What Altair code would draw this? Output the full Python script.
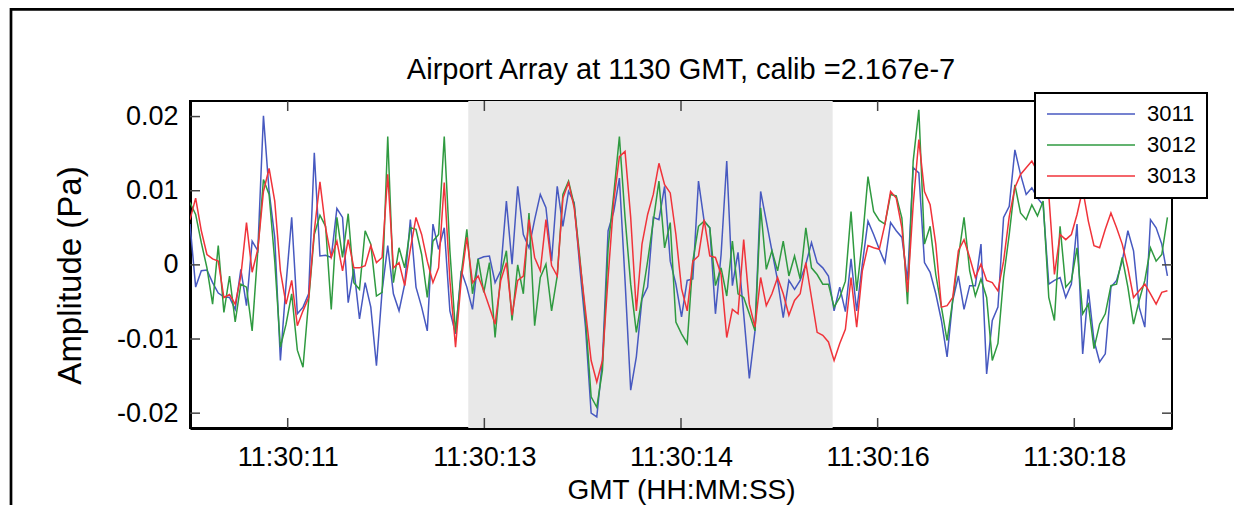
import altair as alt
import pandas as pd

# ---------------- data (in units of 0.01 Pa) ----------------
T0 = 10.905          # time (s after 11:30:00) of the first sample
DT = 0.04597         # sample interval (s)

S3011 = [
    0.55, -0.30, -0.08, -0.07, -0.24, -0.38, -0.43, -0.44, -0.60, -0.06,
    -0.55, 0.32, 0.19, 2.01, 0.99, 0.37, -1.29, -0.26, 0.64, -0.66,
    -0.57, -0.39, 1.51, 0.12, 0.13, 0.10, 0.76, 0.64, -0.51, -0.05,
    -0.73, -0.24, -0.57, -1.36, -0.35, 0.26, -0.39, -0.62, -0.26, 0.61,
    -0.30, -0.57, -0.89, 0.55, 0.21, 0.50, -0.62, -0.93, -0.08, -0.30,
    -0.60, 0.08, 0.11, 0.12, -0.24, -0.08, 0.86, 0.01, 1.06, 0.41,
    0.23, 0.61, 0.95, 0.77, 0.05, 1.06, 0.52, 0.99, 0.84, -0.04,
    -0.84, -2.00, -2.05, -1.29, 0.46, 0.72, 1.17, -0.21, -1.69, -1.24,
    -0.46, -0.30, 0.64, 0.61, 1.06, 0.05, -0.26, -0.70, -0.21, -0.19,
    1.13, 0.59, 0.50, -0.66, 0.14, 1.40, -0.28, 0.17, -0.66, -1.53,
    -0.89, 0.99, 0.59, 0.19, -0.21, -0.71, -0.21, -0.33, -0.21, 0.01,
    0.30, 0.03, -0.04, -0.15, -0.62, -0.30, -0.63, 0.08, -0.62, 0.01,
    0.59, 0.41, 0.21, 0.03, 0.57, 0.46, 0.37, -0.21, 1.31, 1.24,
    0.03, -0.10, -0.39, -0.75, -1.24, -0.48, -0.15, -0.60, -0.28, -0.28,
    0.28, -1.47, -0.75, -0.57, 0.64, 0.79, 1.55, 1.22, 0.95, 1.04,
    0.90, 0.81, -0.26, -0.21, -0.17, -0.44, -0.26, 0.55, -1.20, -0.33,
    -1.02, -1.31, -1.20, -0.30, -0.21, 0.05, 0.46, 0.19, -0.57, -0.84,
    0.61, 0.50, 0.28, -0.15,
]

S3012 = [
    0.84, 0.68, 0.30, -0.04, -0.53, 0.26, -0.64, -0.15, -0.77, -0.26,
    -0.30, -0.89, 0.19, 1.15, 0.95, 0.05, -1.11, -0.80, -0.39, -1.15,
    -1.38, -0.48, 0.41, 0.67, 0.52, -0.60, 0.64, 0.10, 0.69, -0.24,
    -0.33, 0.46, 0.28, -0.42, -0.37, 1.73, -0.24, 0.23, -0.04, 0.50,
    0.48, 0.14, -0.44, 0.32, 0.41, 1.73, 0.19, -0.91, -0.13, 0.48,
    -0.39, 0.08, -0.37, 0.03, -0.98, -0.13, 0.19, -0.75, 0.00, -0.39,
    0.70, -0.82, -0.17, 0.01, -0.62, -0.15, 0.95, 1.13, 0.81, 0.10,
    -0.71, -1.78, -1.92, -1.42, 0.23, 0.95, 1.73, 0.64, -0.26, -0.91,
    -0.44, 0.05, 0.59, 1.13, 0.23, 0.57, -0.77, -0.93, -1.06, 0.05,
    0.52, 0.59, 0.50, -0.28, -0.04, -0.42, 0.32, -0.39, -0.44, -0.66,
    -0.89, 0.77, -0.06, 0.19, -0.08, 0.32, -0.15, 0.12, -0.19, 0.50,
    -0.04, -0.13, -0.26, -0.26, -0.57, -0.44, -0.22, 0.72, -0.35, 0.32,
    1.19, 0.72, 0.60, 0.55, 0.95, 0.93, 0.63, -0.53, 1.40, 2.09,
    0.28, 0.52, -0.13, -0.57, -1.02, -0.48, 0.10, 0.64, -0.08, -0.42,
    -0.19, -0.44, -1.29, -1.06, -0.17, 0.41, 1.08, 0.70, 0.61, 0.81,
    0.66, 0.86, -0.44, -0.75, 0.52, -0.30, -0.21, 0.23, -0.66, -0.53,
    -1.13, -0.80, -0.66, -0.28, -0.26, 0.10, -0.30, -0.80, -0.48, -0.21,
    0.23, 0.05, 0.14, 0.64,
]

S3013 = [
    0.61, 0.90, 0.46, 0.14, 0.08, 0.05, -0.44, -0.40, -0.53, -0.15,
    0.57, -0.10, 0.21, 0.99, 1.30, 0.86, -0.08, -0.53, -0.21, -0.82,
    -0.62, -0.44, 0.46, 1.12, 0.50, 0.10, 0.32, -0.08, 0.34, -0.04,
    -0.04, -0.01, 0.26, 0.03, 0.10, 1.22, -0.04, 0.03, -0.28, 0.21,
    0.64, 0.41, 0.05, -0.24, -0.04, 1.11, -0.21, -1.11, -0.21, 0.37,
    -0.24, -0.15, -0.35, -0.57, -0.80, -0.21, 0.03, -0.68, -0.21, -0.15,
    0.61, 0.10, -0.08, 0.61, -0.01, -0.15, 0.90, 1.11, 0.77, 0.05,
    -0.62, -1.29, -1.58, -1.29, -0.17, 0.86, 1.46, 1.53, 0.64, -0.62,
    0.28, 0.68, 0.95, 1.37, 1.08, 0.97, 0.41, -0.32, -0.62, 0.05,
    0.12, 0.61, 0.12, 0.10, -0.13, -0.98, -0.60, -0.66, 0.34, -0.53,
    -0.84, -0.17, -0.55, -0.39, -0.17, -0.39, -0.68, -0.48, -0.39, 0.03,
    -0.44, -0.91, -0.95, -1.04, -1.29, -1.06, -0.87, -0.17, -0.84, -0.08,
    0.26, 0.23, 0.21, 0.55, 0.99, 0.90, 0.50, -0.37, 0.81, 1.69,
    0.99, 0.81, 0.28, -0.57, -0.55, -0.44, 0.19, 0.34, 0.10, -0.17,
    0.01, -0.21, -0.24, -0.35, 0.05, 0.65, 1.04, 1.22, 1.31, 1.40,
    1.26, 1.08, 0.95, -0.13, 0.41, 0.34, 0.41, 0.68, 1.02, 0.59,
    0.26, 0.23, 0.48, 0.70, 0.50, 0.28, -0.04, -0.44, -0.35, -0.26,
    -0.39, -0.53, -0.37, -0.35,
]

SERIES = ["3011", "3012", "3013"]
COLORS = ["#4759c0", "#2f9a40", "#f0333a"]
XTICKS = [11.7, 13.3, 14.9, 16.5, 18.1]      # labelled 11:30:11 ... 11:30:18
YTICKS = [-0.02, -0.01, 0.0, 0.01, 0.02]
SHADE = [13.169, 16.134]                      # highlighted time window (s)
XDOMAIN = [10.905, 18.895]
YDOMAIN = [-0.0220, 0.0221]
TITLE = "Airport Array at 1130 GMT, calib =2.167e-7"
XTITLE = "GMT (HH:MM:SS)"
YTITLE = "Amplitude (Pa)"

# ---------------- build table ----------------
rows = []
for name, vals in zip(SERIES, [S3011, S3012, S3013]):
    for i, v in enumerate(vals):
        rows.append({"t": T0 + i * DT, "amp": v / 100.0, "sensor": name})
df = pd.DataFrame(rows)

FONT = "Liberation Sans"
W, H = 982, 327
TICKC = "#444444"
FRAME_TOP = -91.6   # outer figure frame, relative to the plot's top-left corner

xscale = alt.Scale(domain=XDOMAIN, nice=False, zero=False)
yscale = alt.Scale(domain=YDOMAIN, nice=False, zero=False)

xaxis = alt.Axis(
    values=XTICKS,
    labelExpr="'11:30:' + (floor(datum.value) < 10 ? '0' : '') + floor(datum.value)",
    title=XTITLE, grid=False, ticks=False, tickSize=0, labelPadding=16,
    labelFontSize=27, labelFont=FONT, labelColor="black", labelFlush=False, labelOverlap=False,
    titleFontSize=28, titleFont=FONT, titleFontWeight="normal", titleColor="black",
    titleBaseline="alphabetic", titleY=70,
    domainColor="black", domainWidth=3,
)
yaxis = alt.Axis(
    values=YTICKS,
    labelExpr="datum.value == 0 ? '0' : (datum.value < 0 ? '-' : '') + format(abs(datum.value), '.2f')",
    title=YTITLE, grid=False, ticks=False, tickSize=0, labelPadding=12,
    labelFontSize=27, labelFont=FONT, labelColor="black", labelFlush=False, labelOverlap=False,
    titleFontSize=33, titleFont=FONT, titleFontWeight="normal", titleColor="black",
    titleAngle=270, titleBaseline="alphabetic", titleAlign="center", titleX=-110, titleY=174,
    domainColor="black", domainWidth=3,
)

shade = alt.Chart(pd.DataFrame({"x0": [SHADE[0]], "x1": [SHADE[1]]})).mark_rect(
    color="#e8e8e8"
).encode(
    x=alt.X("x0:Q", scale=xscale, axis=xaxis),
    x2="x1:Q",
    y=alt.value(0), y2=alt.value(H),
)

lines = alt.Chart(df).mark_line(strokeWidth=1.5, clip=True).encode(
    x=alt.X("t:Q", scale=xscale, axis=xaxis),
    y=alt.Y("amp:Q", scale=yscale, axis=yaxis),
    color=alt.Color(
        "sensor:N",
        scale=alt.Scale(domain=SERIES, range=COLORS),
        legend=alt.Legend(
            title=None, orient="none", legendX=845, legendY=-8,
            fillColor="white", strokeColor="black", padding=11, cornerRadius=0,
            symbolType="stroke", symbolSize=7744, symbolStrokeWidth=1.5,
            labelFontSize=22, labelFont=FONT, labelColor="black", labelOffset=11,
            labelLimit=200, clipHeight=20, rowPadding=9,
        ),
    ),
)

yt = pd.DataFrame({"v": YTICKS})
xt = pd.DataFrame({"v": XTICKS})
left_ticks = alt.Chart(yt).mark_rule(color=TICKC, strokeWidth=1.5).encode(
    y=alt.Y("v:Q", scale=yscale, axis=yaxis), x=alt.value(0), x2=alt.value(10))
right_ticks = alt.Chart(yt).mark_rule(color=TICKC, strokeWidth=1.5).encode(
    y=alt.Y("v:Q", scale=yscale, axis=yaxis), x=alt.value(W - 10), x2=alt.value(W))
bottom_ticks = alt.Chart(xt).mark_rule(color=TICKC, strokeWidth=1.5).encode(
    x=alt.X("v:Q", scale=xscale, axis=xaxis), y=alt.value(H - 10), y2=alt.value(H))
top_ticks = alt.Chart(xt).mark_rule(color=TICKC, strokeWidth=1.5).encode(
    x=alt.X("v:Q", scale=xscale, axis=xaxis), y=alt.value(0), y2=alt.value(10))

# outer figure frame (decoration)
frame = alt.Chart(pd.DataFrame({"a": [0]})).mark_rect(
    fillOpacity=0, stroke="black", strokeWidth=2.7
).encode(
    x=alt.value(-179), x2=alt.value(W + 90), y=alt.value(FRAME_TOP), y2=alt.value(H + 120)
)

# the title is placed relative to the top of all drawn content (the frame);
# a negative offset brings its baseline to ~21px above the plot area
TITLE_OFFSET = FRAME_TOP - 1.35 + 21 - 28

chart = alt.layer(
    shade, lines, left_ticks, right_ticks, bottom_ticks, top_ticks, frame
).properties(
    width=W, height=H,
    title=alt.Title(TITLE, fontSize=29, font=FONT, fontWeight="normal", color="black",
                    anchor="middle", frame="group", baseline="alphabetic",
                    offset=TITLE_OFFSET),
    padding={"left": 182, "top": 93, "right": 62, "bottom": 77},
    autosize=alt.AutoSizeParams(type="none"),
    background="white",
).configure_view(
    stroke="black", strokeWidth=2
).configure_legend(
    strokeWidth=2
)

chart.save("out.html", embed_options={"renderer": "svg", "actions": False})
